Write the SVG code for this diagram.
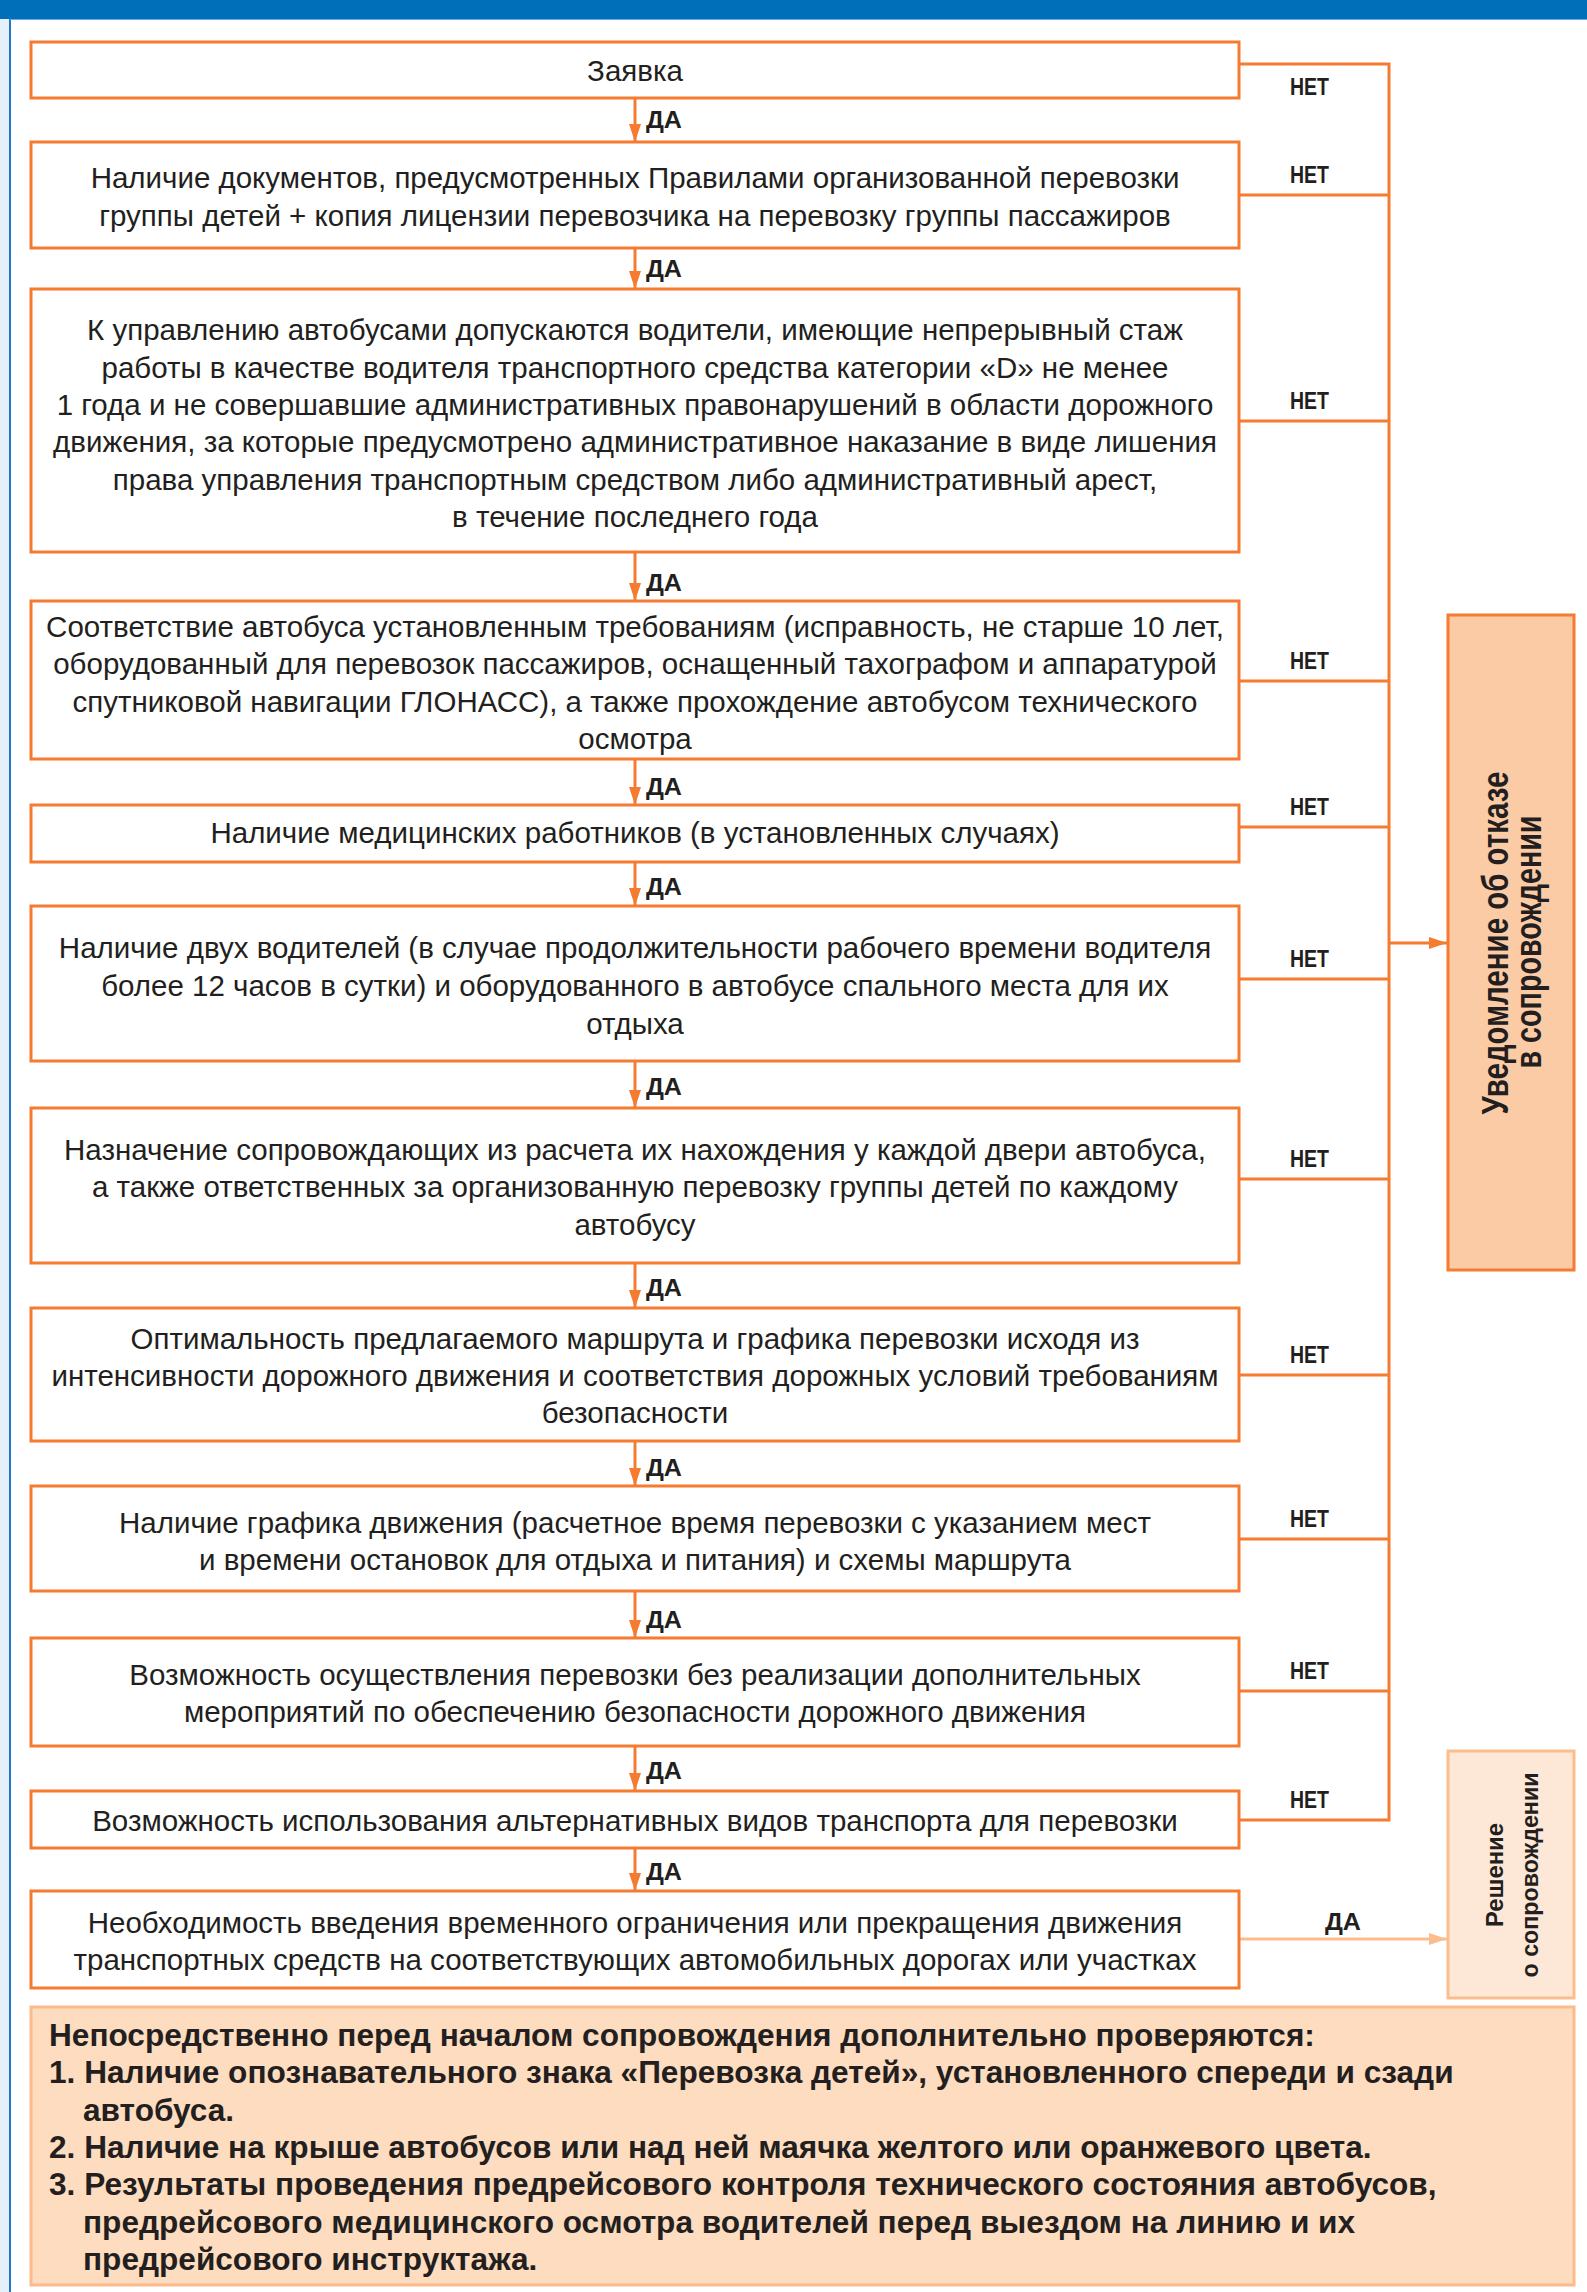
<svg xmlns="http://www.w3.org/2000/svg" width="1587" height="2292" viewBox="0 0 1587 2292">
<defs>
<style>
.box{fill:#fff;stroke:#F47B30;stroke-width:3}
.t{font-family:"Liberation Sans",Arial,sans-serif;font-size:29.5px;fill:#231F20;text-anchor:middle}
.lbl{font-family:"Liberation Sans",Arial,sans-serif;font-size:24px;font-weight:bold;fill:#231F20}
.c{fill:none;stroke:#F47B30;stroke-width:3}
.b{font-family:"Liberation Sans",Arial,sans-serif;font-size:31.6px;font-weight:bold;fill:#231F20}
.r{font-family:"Liberation Sans",Arial,sans-serif;font-weight:bold;fill:#231F20;text-anchor:middle}
</style>
<marker id="ah" viewBox="0 0 18 12" refX="18" refY="6" markerWidth="18" markerHeight="12" markerUnits="userSpaceOnUse" orient="auto">
<path d="M0,0 L18,6 L0,12 Z" fill="#F47B30"/>
</marker>
<marker id="ahl" viewBox="0 0 18 12" refX="18" refY="6" markerWidth="18" markerHeight="12" markerUnits="userSpaceOnUse" orient="auto">
<path d="M0,0 L18,6 L0,12 Z" fill="#FBBD8E"/>
</marker>
</defs>
<rect x="0" y="0" width="1587" height="2292" fill="#fff"/>
<rect x="0" y="0" width="9" height="2292" fill="#E6F0FA"/>
<line x1="10" y1="0" x2="10" y2="2292" stroke="#1E78C8" stroke-width="2"/>
<rect x="0" y="0" width="1587" height="19" fill="#006FB9"/>
<line x1="10" y1="19.5" x2="1587" y2="19.5" stroke="#6AAEE0" stroke-width="1"/>

<g id="connectors">
<path class="c" d="M1239,64 H1389 V1820 H1239"/>
<path class="c" d="M1239,195 H1389 M1239,421 H1389 M1239,681 H1389 M1239,827 H1389 M1239,979 H1389 M1239,1179 H1389 M1239,1375 H1389 M1239,1539 H1389 M1239,1691 H1389"/>
<line class="c" x1="1389" y1="943" x2="1447" y2="943" marker-end="url(#ah)"/>
<line x1="1239" y1="1939" x2="1447" y2="1939" stroke="#FBBD8E" stroke-width="3" marker-end="url(#ahl)"/>
<line class="c" x1="635" y1="98" x2="635" y2="142" marker-end="url(#ah)"/>
<line class="c" x1="635" y1="248" x2="635" y2="289" marker-end="url(#ah)"/>
<line class="c" x1="635" y1="552" x2="635" y2="601" marker-end="url(#ah)"/>
<line class="c" x1="635" y1="759" x2="635" y2="805" marker-end="url(#ah)"/>
<line class="c" x1="635" y1="862" x2="635" y2="906" marker-end="url(#ah)"/>
<line class="c" x1="635" y1="1061" x2="635" y2="1108" marker-end="url(#ah)"/>
<line class="c" x1="635" y1="1263" x2="635" y2="1308" marker-end="url(#ah)"/>
<line class="c" x1="635" y1="1441" x2="635" y2="1486" marker-end="url(#ah)"/>
<line class="c" x1="635" y1="1591" x2="635" y2="1638" marker-end="url(#ah)"/>
<line class="c" x1="635" y1="1746" x2="635" y2="1791" marker-end="url(#ah)"/>
<line class="c" x1="635" y1="1848" x2="635" y2="1891" marker-end="url(#ah)"/>
<g class="lbl">
<text x="646" y="128" textLength="36" lengthAdjust="spacingAndGlyphs">ДА</text>
<text x="646" y="277" textLength="36" lengthAdjust="spacingAndGlyphs">ДА</text>
<text x="646" y="591" textLength="36" lengthAdjust="spacingAndGlyphs">ДА</text>
<text x="646" y="795" textLength="36" lengthAdjust="spacingAndGlyphs">ДА</text>
<text x="646" y="895" textLength="36" lengthAdjust="spacingAndGlyphs">ДА</text>
<text x="646" y="1095" textLength="36" lengthAdjust="spacingAndGlyphs">ДА</text>
<text x="646" y="1296" textLength="36" lengthAdjust="spacingAndGlyphs">ДА</text>
<text x="646" y="1476" textLength="36" lengthAdjust="spacingAndGlyphs">ДА</text>
<text x="646" y="1628" textLength="36" lengthAdjust="spacingAndGlyphs">ДА</text>
<text x="646" y="1779" textLength="36" lengthAdjust="spacingAndGlyphs">ДА</text>
<text x="646" y="1880" textLength="36" lengthAdjust="spacingAndGlyphs">ДА</text>
<text x="1325" y="1930" textLength="36" lengthAdjust="spacingAndGlyphs">ДА</text>
<text x="1290" y="95" textLength="39" lengthAdjust="spacingAndGlyphs">НЕТ</text>
<text x="1290" y="183" textLength="39" lengthAdjust="spacingAndGlyphs">НЕТ</text>
<text x="1290" y="409" textLength="39" lengthAdjust="spacingAndGlyphs">НЕТ</text>
<text x="1290" y="669" textLength="39" lengthAdjust="spacingAndGlyphs">НЕТ</text>
<text x="1290" y="815" textLength="39" lengthAdjust="spacingAndGlyphs">НЕТ</text>
<text x="1290" y="967" textLength="39" lengthAdjust="spacingAndGlyphs">НЕТ</text>
<text x="1290" y="1167" textLength="39" lengthAdjust="spacingAndGlyphs">НЕТ</text>
<text x="1290" y="1363" textLength="39" lengthAdjust="spacingAndGlyphs">НЕТ</text>
<text x="1290" y="1527" textLength="39" lengthAdjust="spacingAndGlyphs">НЕТ</text>
<text x="1290" y="1679" textLength="39" lengthAdjust="spacingAndGlyphs">НЕТ</text>
<text x="1290" y="1808" textLength="39" lengthAdjust="spacingAndGlyphs">НЕТ</text>
</g>
</g>

<g id="n1"><rect class="box" x="31" y="42" width="1208" height="56"/>
<text class="t" x="635" y="81">Заявка</text></g>

<g id="n2"><rect class="box" x="31" y="142" width="1208" height="106"/>
<text class="t" x="635" y="188">Наличие документов, предусмотренных Правилами организованной перевозки</text>
<text class="t" x="635" y="226">группы детей + копия лицензии перевозчика на перевозку группы пассажиров</text></g>

<g id="n3"><rect class="box" x="31" y="289" width="1208" height="263"/>
<text class="t" x="635" y="340">К управлению автобусами допускаются водители, имеющие непрерывный стаж</text>
<text class="t" x="635" y="378">работы в качестве водителя транспортного средства категории «D» не менее</text>
<text class="t" x="635" y="415">1 года и не совершавшие административных правонарушений в области дорожного</text>
<text class="t" x="635" y="452">движения, за которые предусмотрено административное наказание в виде лишения</text>
<text class="t" x="635" y="490">права управления транспортным средством либо административный арест,</text>
<text class="t" x="635" y="527">в течение последнего года</text></g>

<g id="n4"><rect class="box" x="31" y="601" width="1208" height="158"/>
<text class="t" x="635" y="637">Соответствие автобуса установленным требованиям (исправность, не старше 10 лет,</text>
<text class="t" x="635" y="674">оборудованный для перевозок пассажиров, оснащенный тахографом и аппаратурой</text>
<text class="t" x="635" y="712">спутниковой навигации ГЛОНАСС), а также прохождение автобусом технического</text>
<text class="t" x="635" y="749">осмотра</text></g>

<g id="n5"><rect class="box" x="31" y="805" width="1208" height="57"/>
<text class="t" x="635" y="843">Наличие медицинских работников (в установленных случаях)</text></g>

<g id="n6"><rect class="box" x="31" y="906" width="1208" height="155"/>
<text class="t" x="635" y="958">Наличие двух водителей (в случае продолжительности рабочего времени водителя</text>
<text class="t" x="635" y="996">более 12 часов в сутки) и оборудованного в автобусе спального места для их</text>
<text class="t" x="635" y="1034">отдыха</text></g>

<g id="n7"><rect class="box" x="31" y="1108" width="1208" height="155"/>
<text class="t" x="635" y="1160">Назначение сопровождающих из расчета их нахождения у каждой двери автобуса,</text>
<text class="t" x="635" y="1197">а также ответственных за организованную перевозку группы детей по каждому</text>
<text class="t" x="635" y="1235">автобусу</text></g>

<g id="n8"><rect class="box" x="31" y="1308" width="1208" height="133"/>
<text class="t" x="635" y="1349">Оптимальность предлагаемого маршрута и графика перевозки исходя из</text>
<text class="t" x="635" y="1386">интенсивности дорожного движения и соответствия дорожных условий требованиям</text>
<text class="t" x="635" y="1423">безопасности</text></g>

<g id="n9"><rect class="box" x="31" y="1486" width="1208" height="105"/>
<text class="t" x="635" y="1533">Наличие графика движения (расчетное время перевозки с указанием мест</text>
<text class="t" x="635" y="1570">и времени остановок для отдыха и питания) и схемы маршрута</text></g>

<g id="n10"><rect class="box" x="31" y="1638" width="1208" height="108"/>
<text class="t" x="635" y="1685">Возможность осуществления перевозки без реализации дополнительных</text>
<text class="t" x="635" y="1722">мероприятий по обеспечению безопасности дорожного движения</text></g>

<g id="n11"><rect class="box" x="31" y="1791" width="1208" height="57"/>
<text class="t" x="635" y="1831">Возможность использования альтернативных видов транспорта для перевозки</text></g>

<g id="n12"><rect class="box" x="31" y="1891" width="1208" height="97"/>
<text class="t" x="635" y="1933">Необходимость введения временного ограничения или прекращения движения</text>
<text class="t" x="635" y="1970">транспортных средств на соответствующих автомобильных дорогах или участках</text></g>

<g id="refusal"><rect x="1448" y="615" width="126" height="655" fill="#FBCBA6" stroke="#F47B30" stroke-width="3"/>
<text class="r" font-size="36" transform="translate(1508,943) rotate(-90)" textLength="343" lengthAdjust="spacingAndGlyphs">Уведомление об отказе</text>
<text class="r" font-size="36" transform="translate(1541,942) rotate(-90)" textLength="253" lengthAdjust="spacingAndGlyphs">в сопровождении</text></g>

<g id="decision"><rect x="1448" y="1751" width="126" height="247" fill="#FDE7D6" stroke="#FBBD8E" stroke-width="3"/>
<text class="r" font-size="24" transform="translate(1503,1875) rotate(-90)" textLength="104" lengthAdjust="spacingAndGlyphs">Решение</text>
<text class="r" font-size="24" transform="translate(1538,1875) rotate(-90)" textLength="205" lengthAdjust="spacingAndGlyphs">о сопровождении</text></g>

<g id="checks"><rect x="31" y="2007" width="1543" height="278" fill="#FDDCBF" stroke="#FBBB8C" stroke-width="3"/>
<text class="b" x="49" y="2046">Непосредственно перед началом сопровождения дополнительно проверяются:</text>
<text class="b" x="49" y="2083">1. Наличие опознавательного знака «Перевозка детей», установленного спереди и сзади</text>
<text class="b" x="83" y="2121">автобуса.</text>
<text class="b" x="49" y="2158">2. Наличие на крыше автобусов или над ней маячка желтого или оранжевого цвета.</text>
<text class="b" x="49" y="2195">3. Результаты проведения предрейсового контроля технического состояния автобусов,</text>
<text class="b" x="83" y="2233">предрейсового медицинского осмотра водителей перед выездом на линию и их</text>
<text class="b" x="83" y="2270">предрейсового инструктажа.</text></g>
</svg>
